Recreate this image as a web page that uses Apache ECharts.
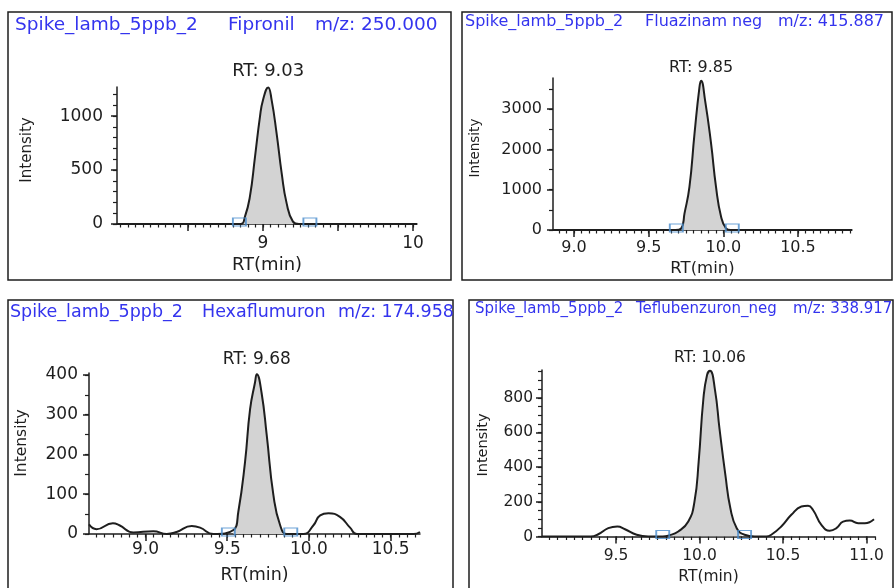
<!DOCTYPE html>
<html>
<head>
<meta charset="utf-8">
<title>Spike_lamb_5ppb_2 chromatograms</title>
<script src="https://cdn.jsdelivr.net/npm/echarts@6/dist/echarts.min.js"></script>
<style>
    html, body { margin: 0; padding: 0; background: #ffffff; }
    #chart { width: 896px; height: 588px; }
</style>
</head>
<body>
<div id="chart"></div>
<script>
// sample + compounds
var sampleName = 'Spike_lamb_5ppb_2';
var compounds = ['Fipronil', 'Fluazinam neg', 'Hexaflumuron', 'Teflubenzuron_neg'];
var mzValues = ['250.000', '415.887', '174.958', '338.917'];
var peakRTs = ['9.03', '9.85', '9.68', '10.06'];

// Fipronil trace
var fipRT  = [8.027, 8.85, 8.88, 8.913, 8.947, 8.98, 9.0, 9.035, 9.058, 9.091, 9.125, 9.158, 9.2, 9.24, 10.027];
var fipInt = [0, 0, 68, 253, 623, 994, 1148, 1266, 1148, 840, 469, 191, 22, 0, 0];
var fipBase = [8.843, 9.313];

// Fluazinam neg trace
var fluRT  = [8.859, 9.68, 9.718, 9.74, 9.773, 9.807, 9.84, 9.851, 9.878, 9.918, 9.951, 9.985, 10.018, 10.05, 10.862];
var fluInt = [0, 0, 42, 412, 1070, 2390, 3540, 3700, 3210, 2140, 1070, 330, 42, 0, 0];
var fluBase = [9.685, 10.06];

// Hexaflumuron trace
var hexRT  = [8.654, 8.70, 8.80, 8.84, 8.925, 9.048, 9.13, 9.19, 9.283, 9.334, 9.415, 9.538, 9.568, 9.609, 9.64, 9.67, 9.681, 9.71, 9.742, 9.783, 9.824, 9.865, 9.966, 10.028, 10.069, 10.12, 10.19, 10.252, 10.293, 10.64, 10.68];
var hexInt = [24, 12, 27, 22, 4, 7, 0, 5, 20, 16, 0, 10, 56, 181, 314, 381, 402, 356, 248, 97, 22, 0, 0, 22, 47, 52, 43, 16, 0, 0, 5];
var hexBase = [9.507, 9.889];

// Teflubenzuron_neg trace
var tefRT  = [9.057, 9.35, 9.394, 9.454, 9.508, 9.554, 9.624, 9.693, 9.78, 9.813, 9.873, 9.933, 9.97, 9.995, 10.023, 10.045, 10.063, 10.093, 10.12, 10.155, 10.185, 10.223, 10.27, 10.33, 10.40, 10.43, 10.49, 10.55, 10.61, 10.65, 10.68, 10.73, 10.78, 10.82, 10.86, 10.90, 10.95, 10.99, 11.045];
var tefInt = [0, 0, 13, 48, 58, 42, 10, 0, 0, 5, 29, 86, 201, 430, 790, 930, 955, 844, 620, 355, 163, 48, 10, 0, 0, 10, 58, 125, 173, 178, 153, 67, 33, 48, 86, 92, 77, 77, 100];
var tefBase = [9.78, 10.27];

// tick labels
var fipXTicks = [9, 10];
var fluXTicks = [9.0, 9.5, 10.0, 10.5];
var hexXTicks = [9.0, 9.5, 10.0, 10.5];
var tefXTicks = [9.5, 10.0, 10.5, 11.0];
var fipYTicks = [0, 500, 1000];
var fluYTicks = [0, 1000, 2000, 3000];
var hexYTicks = [0, 100, 200, 300, 400];
var tefYTicks = [0, 200, 400, 600, 800];

var FONT = 'DejaVu Sans';
var INK = '#1e1e1e';
var BLUE = '#3434ee';

// layout of the four boxes
var panels = [
    { rt: fipRT, it: fipInt, base: fipBase, xTicks: fipXTicks, yTicks: fipYTicks,
      xMajor: [8.5, 9, 9.5, 10], xDec: 0, yMinor: 100,
      xMin: 8.027, xMax: 10.027, yMax: 1270,
      grid: [117, 87, 300, 137], box: [8, 12, 443, 268],
      titleX: [15, 228, 315], titleY: 25, fs: 18.5, tick: 17, rtFs: 18, rtGap: 7,
      nameFs: 18, nameGap: 32, xMargin: 11, yMargin: 14, intens: [27, 150, 15] },
    { rt: fluRT, it: fluInt, base: fluBase, xTicks: fluXTicks, yTicks: fluYTicks,
      xMajor: [9.0, 9.5, 10.0, 10.5], xDec: 1, yMinor: 500,
      xMin: 8.859, xMax: 10.862, yMax: 3770,
      grid: [553, 78, 299, 152], box: [462, 12, 430, 268],
      titleX: [465, 645, 778], titleY: 22, fs: 16, tick: 16, rtFs: 16, rtGap: 5,
      nameFs: 16.5, nameGap: 30, xMargin: 10, yMargin: 11, intens: [475, 148, 13.5] },
    { rt: hexRT, it: hexInt, base: hexBase, xTicks: hexXTicks, yTicks: hexYTicks,
      xMajor: [9.0, 9.5, 10.0, 10.5], xDec: 1, yMinor: 50,
      xMin: 8.654, xMax: 10.68, yMax: 405,
      grid: [89, 373, 331, 161], box: [8, 300, 445, 300],
      titleX: [10, 202, 338], titleY: 312, fs: 17.5, tick: 17, rtFs: 17, rtGap: 6,
      nameFs: 17.5, nameGap: 32, xMargin: 7, yMargin: 11, intens: [22, 443, 15.5] },
    { rt: tefRT, it: tefInt, base: tefBase, xTicks: tefXTicks, yTicks: tefYTicks,
      xMajor: [9.5, 10.0, 10.5, 11.0], xDec: 1, yMinor: 50,
      xMin: 9.057, xMax: 11.051, yMax: 960,
      grid: [542, 370, 333, 166.5], box: [469, 300, 424, 300],
      titleX: [475, 636, 793], titleY: 309, fs: 15, tick: 15.5, rtFs: 15.5, rtGap: 5,
      nameFs: 15.5, nameGap: 32, xMargin: 11, yMargin: 9, intens: [483, 445, 14.5] }
];

function steps(from, to, step) {
    var out = [];
    var v = Math.ceil(from / step - 1e-9) * step;
    for (; v <= to + 1e-9; v += step) {
        out.push(Math.round(v * 1000) / 1000);
    }
    return out;
}

var myChart = echarts.init(document.getElementById('chart'));

var option = {
    backgroundColor: '#ffffff',
    animation: false,
    grid: [],
    xAxis: [],
    yAxis: [],
    series: [],
    graphic: []
};

panels.forEach(function (p, i) {
    var lineColor = { color: INK, width: 1.5 };

    option.grid.push({ left: p.grid[0], top: p.grid[1], width: p.grid[2], height: p.grid[3] });

    // x axis: major ticks + labels, then a second one for the small ticks
    option.xAxis.push({
        type: 'value', gridIndex: i, position: 'bottom',
        min: p.xMin, max: p.xMax,
        name: 'RT(min)', nameLocation: 'middle', nameGap: p.nameGap,
        nameTextStyle: { fontFamily: FONT, fontSize: p.nameFs, color: INK },
        axisLine: { onZero: false, lineStyle: lineColor },
        axisTick: { customValues: p.xMajor, length: 7, lineStyle: lineColor },
        axisLabel: {
            customValues: p.xTicks, margin: p.xMargin,
            fontFamily: FONT, fontSize: p.tick, color: INK,
            formatter: function (v) { return v.toFixed(p.xDec); }
        },
        splitLine: { show: false }
    });
    option.xAxis.push({
        type: 'value', gridIndex: i, position: 'bottom',
        min: p.xMin, max: p.xMax,
        axisLine: { show: false, onZero: false },
        axisTick: { customValues: steps(p.xMin, p.xMax, 0.05), length: 3.5, lineStyle: { color: INK, width: 1.2 } },
        axisLabel: { show: false },
        splitLine: { show: false }
    });

    // y axis
    option.yAxis.push({
        type: 'value', gridIndex: i, position: 'left',
        min: 0, max: p.yMax,
        axisLine: { show: true, onZero: false, lineStyle: lineColor },
        axisTick: { show: true, customValues: p.yTicks, length: 6, lineStyle: lineColor },
        axisLabel: {
            customValues: p.yTicks, margin: p.yMargin, fontFamily: FONT, fontSize: p.tick, color: INK,
            formatter: function (v) { return String(v); }
        },
        splitLine: { show: false }
    });
    option.yAxis.push({
        type: 'value', gridIndex: i, position: 'left',
        min: 0, max: p.yMax,
        axisLine: { show: false, onZero: false },
        axisTick: { show: true, customValues: steps(0, p.yMax, p.yMinor), length: 4, lineStyle: { color: INK, width: 1.2 } },
        axisLabel: { show: false },
        splitLine: { show: false }
    });

    var trace = p.rt.map(function (x, k) { return [x, p.it[k]]; });
    var peak = trace.filter(function (d) { return d[0] >= p.base[0] && d[0] <= p.base[1]; });
    var apex = trace.reduce(function (a, b) { return b[1] > a[1] ? b : a; });

    // grey integrated area
    option.series.push({
        type: 'line', xAxisIndex: 2 * i, yAxisIndex: 2 * i,
        data: peak, smooth: 0.5, showSymbol: false,
        lineStyle: { width: 0 },
        areaStyle: { color: '#d3d3d3', opacity: 1 },
        z: 1
    });
    // chromatogram
    option.series.push({
        type: 'line', xAxisIndex: 2 * i, yAxisIndex: 2 * i,
        data: trace, smooth: 0.5, showSymbol: false,
        lineStyle: { color: INK, width: 2 },
        markPoint: {
            symbol: 'circle', symbolSize: 0, silent: true,
            label: {
                show: true, position: 'top', distance: p.rtGap,
                fontFamily: FONT, fontSize: p.rtFs, color: INK,
                formatter: 'RT: ' + peakRTs[i]
            },
            data: [{ coord: apex }]
        },
        z: 2
    });
    // peak start / end markers
    option.series.push({
        type: 'scatter', xAxisIndex: 2 * i, yAxisIndex: 2 * i,
        data: p.base.map(function (x) { return [x, 0]; }),
        symbol: 'rect', symbolSize: [13, 8], symbolOffset: [0, -2],
        itemStyle: { color: 'rgba(255,255,255,0)', borderColor: '#4a8ccc', borderWidth: 1.5 },
        z: 3
    });

    // frame
    option.graphic.push({
        type: 'rect', silent: true,
        shape: { x: p.box[0], y: p.box[1], width: p.box[2], height: p.box[3] },
        style: { fill: 'none', stroke: INK, lineWidth: 1.5 }
    });
    // title parts
    [sampleName, compounds[i], 'm/z: ' + mzValues[i]].forEach(function (t, k) {
        option.graphic.push({
            type: 'text', silent: true, x: p.titleX[k], y: p.titleY,
            style: { text: t, fill: BLUE, fontFamily: FONT, fontSize: p.fs, align: 'left', verticalAlign: 'middle' }
        });
    });
    // Intensity
    option.graphic.push({
        type: 'text', silent: true, x: p.intens[0], y: p.intens[1], rotation: Math.PI / 2,
        style: { text: 'Intensity', fill: INK, fontFamily: FONT, fontSize: p.intens[2], align: 'center', verticalAlign: 'middle' }
    });
});

myChart.setOption(option);
window.addEventListener('resize', function () {
    myChart.resize();
});
</script>
</body>
</html>
